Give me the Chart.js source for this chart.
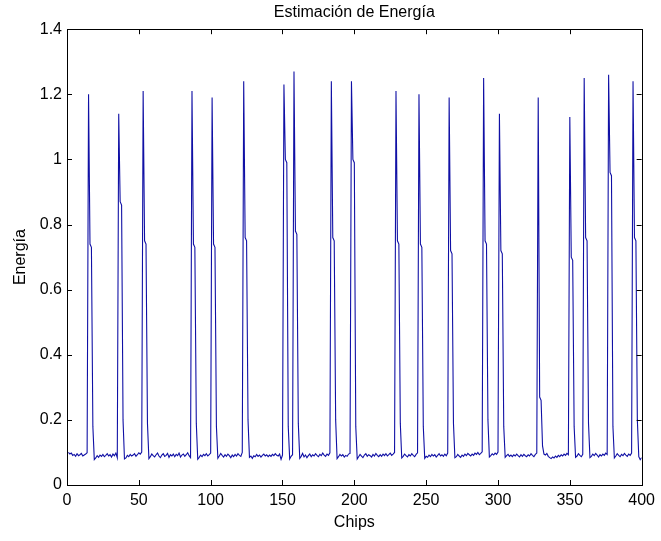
<!DOCTYPE html>
<html>
<head>
<meta charset="utf-8">
<script src="https://cdn.jsdelivr.net/npm/chart.js@4"></script>
<style>
  html, body { margin: 0; padding: 0; background: #fff; }
  #wrap { width: 661px; height: 541px; }
</style>
</head>
<body>
<div id="wrap"><canvas id="c" width="661" height="541"></canvas></div>
<script>
// Estimación de Energía - energía por chip
var TITLE = 'Estimación de Energía';
var X_LABEL = 'Chips';
var Y_LABEL = 'Energía';
var X_TICKS = [0, 50, 100, 150, 200, 250, 300, 350, 400];
var Y_TICKS = [0, 0.2, 0.4, 0.6, 0.8, 1, 1.2, 1.4];

// chips 1..400, 20 por fila
var energia = [
  0.100, 0.095, 0.098, 0.091, 0.094, 0.088, 0.096, 0.090, 0.093, 0.097, 0.089, 0.092, 0.095, 0.099, 1.20, 0.74, 0.73, 0.18, 0.078, 0.083,
  0.090, 0.085, 0.092, 0.088, 0.094, 0.087, 0.091, 0.096, 0.089, 0.093, 0.086, 0.095, 0.090, 0.098, 0.084, 1.14, 0.87, 0.86, 0.20, 0.080,
  0.083, 0.091, 0.087, 0.094, 0.089, 0.092, 0.096, 0.088, 0.093, 0.099, 0.095, 0.101, 1.21, 0.75, 0.74, 0.19, 0.081, 0.087, 0.095, 0.090,
  0.086, 0.093, 0.098, 0.089, 0.084, 0.092, 0.096, 0.088, 0.091, 0.097, 0.085, 0.093, 0.089, 0.095, 0.087, 0.094, 0.090, 0.098, 0.086, 0.092,
  0.095, 0.088, 0.093, 0.099, 0.090, 0.084, 1.21, 0.74, 0.73, 0.19, 0.079, 0.085, 0.092, 0.087, 0.094, 0.090, 0.096, 0.089, 0.093, 0.098,
  1.19, 0.74, 0.73, 0.18, 0.082, 0.089, 0.097, 0.091, 0.086, 0.093, 0.088, 0.095, 0.090, 0.084, 0.092, 0.087, 0.094, 0.089, 0.096, 0.091,
  0.088, 0.100, 1.24, 0.76, 0.75, 0.20, 0.085, 0.089, 0.082, 0.090, 0.087, 0.094, 0.088, 0.092, 0.086, 0.091, 0.095, 0.089, 0.093, 0.087,
  0.092, 0.088, 0.094, 0.090, 0.096, 0.091, 0.089, 0.095, 0.079, 0.092, 1.23, 1.00, 0.99, 0.18, 0.080, 0.088, 0.093, 1.27, 0.78, 0.77,
  0.19, 0.082, 0.088, 0.097, 0.086, 0.092, 0.084, 0.090, 0.095, 0.087, 0.093, 0.089, 0.096, 0.091, 0.087, 0.094, 0.090, 0.098, 0.092, 0.088,
  0.095, 0.091, 0.099, 1.24, 0.76, 0.75, 0.20, 0.081, 0.087, 0.094, 0.089, 0.093, 0.086, 0.091, 0.088, 0.095, 0.097, 1.24, 1.00, 0.99,
  0.18, 0.080, 0.087, 0.094, 0.089, 0.084, 0.092, 0.096, 0.088, 0.093, 0.090, 0.086, 0.094, 0.089, 0.097, 0.091, 0.087, 0.093, 0.088, 0.095,
  0.090, 0.096, 0.089, 0.093, 0.098, 0.091, 0.095, 0.100, 1.21, 0.75, 0.74, 0.19, 0.083, 0.088, 0.095, 0.090, 0.086, 0.093, 0.089, 0.096,
  0.091, 0.087, 0.094, 0.099, 1.20, 0.74, 0.73, 0.18, 0.082, 0.088, 0.085, 0.092, 0.087, 0.094, 0.089, 0.093, 0.086, 0.091, 0.096, 0.089,
  0.093, 0.088, 0.095, 0.090, 0.098, 1.19, 0.72, 0.71, 0.19, 0.084, 0.087, 0.094, 0.089, 0.085, 0.092, 0.088, 0.095, 0.090, 0.097, 0.093,
  0.089, 0.095, 0.091, 0.098, 0.094, 0.100, 0.093, 0.097, 0.102, 1.25, 0.75, 0.74, 0.20, 0.086, 0.090, 0.096, 0.092, 0.098, 0.094, 0.101,
  1.14, 0.72, 0.71, 0.18, 0.085, 0.090, 0.094, 0.088, 0.092, 0.087, 0.093, 0.089, 0.095, 0.090, 0.086, 0.093, 0.088, 0.094, 0.090, 0.087,
  0.093, 0.089, 0.096, 0.091, 0.087, 0.094, 0.098, 1.19, 0.27, 0.26, 0.12, 0.095, 0.092, 0.097, 0.088, 0.084, 0.081, 0.086, 0.083, 0.089,
  0.085, 0.091, 0.087, 0.093, 0.089, 0.095, 0.091, 0.097, 0.093, 1.13, 0.70, 0.69, 0.18, 0.085, 0.089, 0.096, 0.091, 0.087, 0.094, 1.25,
  0.76, 0.75, 0.19, 0.084, 0.088, 0.095, 0.090, 0.097, 0.092, 0.086, 0.093, 0.089, 0.095, 0.091, 0.098, 0.094, 1.26, 0.96, 0.95, 0.18,
  0.083, 0.089, 0.096, 0.091, 0.087, 0.094, 0.090, 0.097, 0.092, 0.088, 0.095, 0.091, 0.098, 1.24, 0.76, 0.75, 0.20, 0.087, 0.078, 0.084
];

var LINE_COLOR = 'rgb(16,16,165)';
var FONT = 'Liberation Sans, Arial, sans-serif';

var points = [];
for (var i = 0; i < energia.length; i++) {
  points.push({ x: i + 1, y: energia[i] });
}

// marco y marcas hacia adentro, estilo MATLAB
var boxPlugin = {
  id: 'matlabBox',
  afterDatasetsDraw: function(chart) {
    var ctx = chart.ctx;
    var a = chart.chartArea;
    var xs = chart.scales.x, ys = chart.scales.y;
    var L = 5;
    ctx.save();
    ctx.strokeStyle = '#000';
    ctx.lineWidth = 1;
    ctx.beginPath();
    X_TICKS.forEach(function(v) {
      var px = Math.round(xs.getPixelForValue(v)) + 0.5;
      ctx.moveTo(px, a.bottom); ctx.lineTo(px, a.bottom - L);
      ctx.moveTo(px, a.top); ctx.lineTo(px, a.top + L);
    });
    Y_TICKS.forEach(function(v) {
      var py = Math.round(ys.getPixelForValue(v)) + 0.5;
      ctx.moveTo(a.left, py); ctx.lineTo(a.left + L, py);
      ctx.moveTo(a.right, py); ctx.lineTo(a.right - L, py);
    });
    ctx.stroke();
    ctx.strokeRect(Math.round(a.left) + 0.5, Math.round(a.top) + 0.5,
                   Math.round(a.right - a.left), Math.round(a.bottom - a.top));
    ctx.restore();
  }
};

new Chart(document.getElementById('c'), {
  type: 'line',
  data: {
    datasets: [{
      label: Y_LABEL,
      data: points,
      borderColor: LINE_COLOR,
      borderWidth: 1.1,
      pointRadius: 0,
      tension: 0,
      fill: false
    }]
  },
  options: {
    responsive: false,
    animation: false,
    layout: { padding: { left: 0, right: 14, top: 0, bottom: 0 } },
    plugins: {
      legend: { display: false },
      tooltip: { enabled: false },
      title: {
        display: true,
        fullSize: false,
        text: TITLE,
        color: '#000',
        font: { family: FONT, size: 16, weight: 'normal' },
        padding: { top: 3, bottom: 7 }
      }
    },
    scales: {
      x: {
        type: 'linear',
        min: 0,
        max: 400,
        afterBuildTicks: function(s) { s.ticks = X_TICKS.map(function(v) { return { value: v }; }); },
        afterFit: function(s) { s.height = 56; },
        grid: { display: false, drawTicks: false },
        border: { display: false },
        ticks: { color: '#000', font: { family: FONT, size: 16 }, padding: 6, maxRotation: 0 },
        title: {
          display: true, text: X_LABEL, color: '#000',
          font: { family: FONT, size: 16 },
          padding: { top: 9, bottom: 9 }
        }
      },
      y: {
        min: 0,
        max: 1.4,
        afterBuildTicks: function(s) { s.ticks = Y_TICKS.map(function(v) { return { value: v }; }); },
        afterFit: function(s) { s.width = 67; },
        grid: { display: false, drawTicks: false },
        border: { display: false },
        ticks: { color: '#000', font: { family: FONT, size: 16 }, padding: 5,
                 callback: function(v) { return String(Math.round(v * 10) / 10); } },
        title: {
          display: true, text: Y_LABEL, color: '#000',
          font: { family: FONT, size: 16 },
          padding: { top: 11, bottom: 0 }
        }
      }
    }
  },
  plugins: [boxPlugin]
});
</script>
</body>
</html>
